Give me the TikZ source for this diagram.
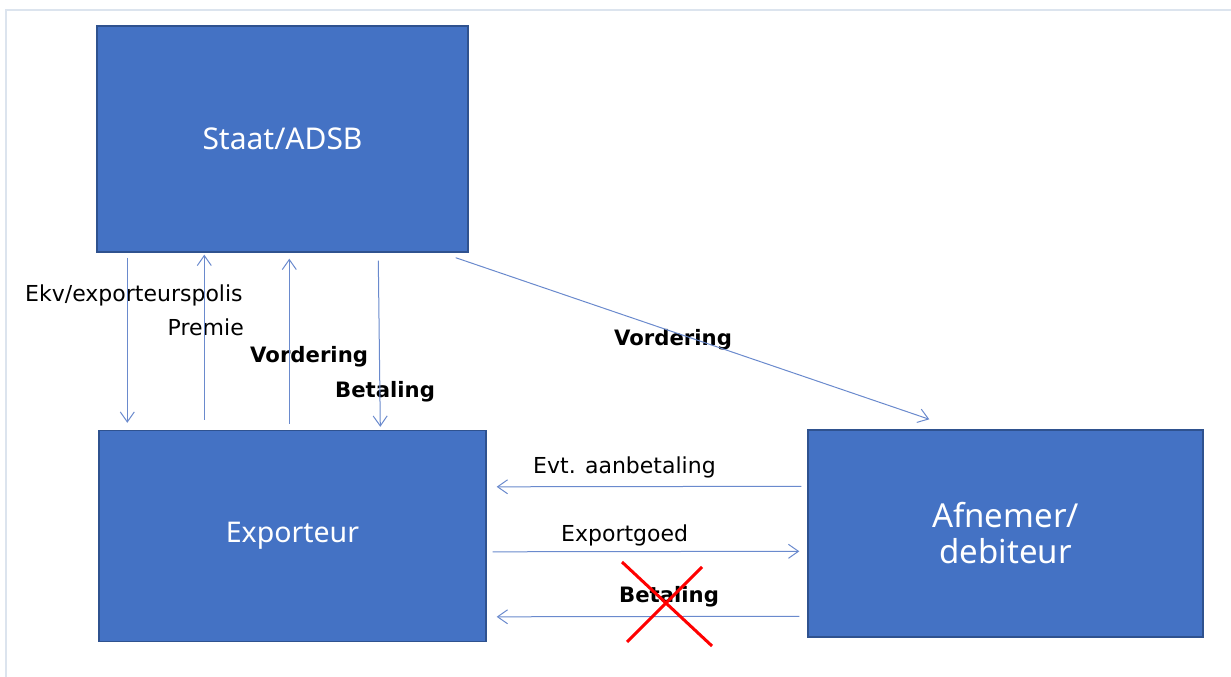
\documentclass[tikz,border=0pt]{standalone}
\usepackage{fontspec}
\usepackage{xcolor}
\usepackage{tikz}
\usetikzlibrary{arrows.meta}
\setmainfont{DejaVu Sans}
\newfontfamily\boxfont{Noto Sans}
\definecolor{boxblue}{HTML}{4472C4}
\definecolor{boxline}{HTML}{2F528F}
\definecolor{flowblue}{HTML}{6A8ACD}
\definecolor{framegray}{HTML}{DCE4EE}

\begin{document}
\begin{tikzpicture}[x=1pt,y=-1pt,
	party/.style={rectangle,draw=boxline,line width=1.4pt,fill=boxblue,text=white,align=center,inner sep=0pt},
	flow/.style={draw=flowblue,line width=1pt,-{Straight Barb[length=10pt,width=14pt]}},
	lbl/.style={font=\fontsize{22}{26}\selectfont,inner sep=0pt},
	blbl/.style={font=\fontsize{21.2}{25}\selectfont\bfseries,inner sep=0pt}]
	\useasboundingbox (0,0) rectangle (1231,677);
	\draw[framegray,line width=1.5pt] (6,677) -- (6,10) -- (1231,10);
	\node[party,minimum width=371pt,minimum height=226pt,font=\boxfont\fontsize{30}{35}\selectfont] (Staat) at (282.5,139) {Staat/ADSB};
	\node[party,minimum width=387pt,minimum height=211pt,font=\boxfont\fontsize{28.5}{34}\selectfont] (Exporteur) at (292.5,536) {Exporteur};
	\node[party,minimum width=395pt,minimum height=207pt,font=\boxfont\fontsize{33}{36}\selectfont] (Afnemer) at (1005.5,533.5) {Afnemer/\\debiteur};
	\node[lbl,anchor=west] (Polis) at (25,295) {Ekv/exporteurspolis};
	\node[lbl,anchor=east] (Premie) at (244,327) {Premie};
	\node[blbl,anchor=west] (VorderingL) at (250,357) {Vordering};
	\node[blbl,anchor=west] (BetalingL) at (335,392) {Betaling};
	\node[blbl] (VorderingR) at (673,340) {Vordering};
	\node[lbl,anchor=west] (Aanbetaling) at (533,467) {Evt. aanbetaling};
	\node[lbl,anchor=west] (Exportgoed) at (561,535) {Exportgoed};
	\node[blbl,anchor=west] (BetalingR) at (619,597) {Betaling};
	% draw the arrows
	\draw[flow] ([xshift=31pt,yshift=-5pt]Staat.south west)     -- ([xshift=29pt,yshift=7pt]Exporteur.north west);
	\draw[flow] ([xshift=106pt,yshift=10pt]Exporteur.north west) -- ([xshift=108pt,yshift=-2pt]Staat.south west);
	\draw[flow] ([xshift=191pt,yshift=6pt]Exporteur.north west)  -- ([xshift=193pt,yshift=-6pt]Staat.south west);
	\draw[flow] ([xshift=282pt,yshift=-8pt]Staat.south west)    -- ([xshift=282pt,yshift=3pt]Exporteur.north west);
	\draw[flow] ([xshift=-13pt,yshift=-5pt]Staat.south east)    -- ([xshift=122pt,yshift=10pt]Afnemer.north west);
	\draw[flow] ([xshift=-6pt,yshift=-57pt]Afnemer.north west)  -- ([xshift=10pt,yshift=-57pt]Exporteur.north east);
	\draw[flow] ([xshift=6pt,yshift=-122pt]Exporteur.north east) -- ([xshift=-8pt,yshift=-122pt]Afnemer.north west);
	\draw[flow] ([xshift=-8pt,yshift=-187pt]Afnemer.north west) -- ([xshift=10pt,yshift=-187pt]Exporteur.north east);
	% red cross over the payment
	\draw[red,line width=3pt] (622,562) -- (712,646);
	\draw[red,line width=3pt] (702,567) -- (627,642);
\end{tikzpicture}
\end{document}
